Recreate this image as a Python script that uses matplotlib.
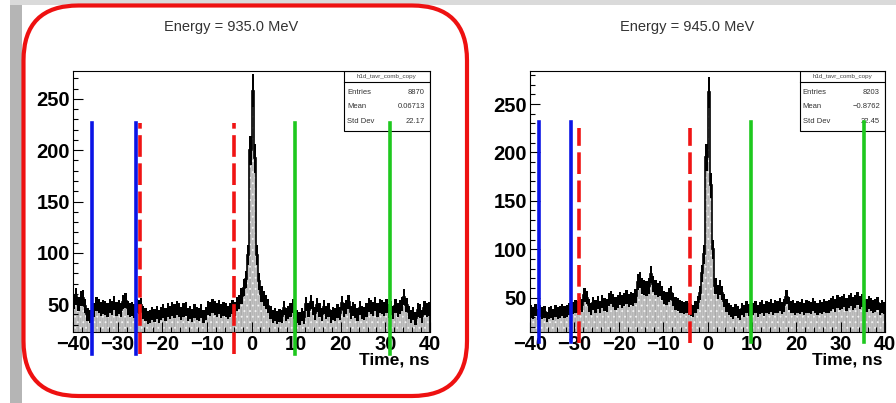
import matplotlib
matplotlib.use('Agg')
import matplotlib.pyplot as plt
from matplotlib.patches import Rectangle, FancyBboxPatch
from matplotlib.ticker import MultipleLocator
import numpy as np

plt.rcParams['font.family'] = ['Liberation Sans', 'DejaVu Sans']
plt.rcParams['hatch.linewidth'] = 0.6

# Bins: 0.5 ns from -40 to 40
edges = np.arange(-40, 40.5, 0.5)

# Energy = 935.0 MeV, counts per bin (10 ns per row)
counts_935 = [
    52, 58, 50, 55, 56, 48, 40, 38, 42, 44, 50, 48, 45, 47, 46, 44, 48, 46, 51, 45,
    47, 44, 52, 53, 46, 44, 45, 43, 48, 47, 49, 42, 40, 37, 38, 41, 39, 42, 38, 41,
    43, 40, 44, 42, 45, 43, 46, 44, 41, 44, 45, 40, 42, 39, 43, 41, 40, 43, 38, 41,
    46, 45, 48, 46, 44, 47, 43, 45, 44, 42, 44, 47, 45, 50, 52, 58, 66, 74, 98, 200,
    258, 192, 98, 72, 60, 55, 52, 48, 42, 38, 40, 37, 39, 38, 46, 40, 42, 44, 48, 36,
    38, 36, 40, 37, 50, 44, 52, 46, 41, 49, 44, 40, 47, 42, 44, 38, 41, 40, 43, 41,
    51, 44, 47, 52, 42, 45, 43, 40, 46, 42, 41, 44, 49, 47, 45, 50, 44, 48, 47, 45,
    48, 43, 46, 42, 48, 44, 47, 50, 57, 49, 42, 38, 41, 36, 44, 43, 38, 46, 44, 45,
]

# Energy = 945.0 MeV
counts_945 = [
    36, 34, 37, 33, 36, 34, 35, 30, 34, 35, 33, 36, 34, 35, 37, 35, 36, 38, 37, 39,
    41, 40, 44, 42, 53, 50, 42, 38, 44, 41, 45, 40, 46, 43, 42, 48, 50, 47, 44, 46,
    49, 46, 48, 51, 47, 49, 48, 52, 66, 68, 62, 60, 59, 62, 74, 64, 60, 58, 59, 55,
    50, 49, 53, 55, 48, 44, 43, 41, 40, 39, 40, 38, 37, 36, 40, 45, 55, 75, 95, 195,
    262, 166, 100, 62, 56, 60, 55, 47, 42, 38, 36, 34, 37, 35, 33, 38, 36, 40, 37, 35,
    38, 40, 36, 39, 41, 37, 40, 39, 42, 38, 41, 40, 43, 39, 42, 51, 44, 40, 41, 38,
    40, 39, 42, 38, 41, 40, 39, 43, 40, 38, 41, 39, 42, 40, 41, 43, 45, 42, 46, 44,
    45, 47, 43, 46, 48, 44, 46, 49, 45, 47, 44, 42, 45, 43, 41, 42, 44, 38, 41, 39,
]

titles = ['Energy = 935.0 MeV', 'Energy = 945.0 MeV']
stats_names = ['h1d_tavr_comb_copy', 'h1d_tavr_comb_copy']
entries = ['8870', '8203']
means = ['0.06713', '\u22120.8762']
std_devs = ['22.17', '22.45']
y_ranges = [(22.7, 277.6), (14.5, 284.4)]

# Window lines (ns)
blue_935 = [-35.8, -25.8]
red_935 = [-25.0, -3.9]
green_935 = [9.8, 31.0]
blue_945 = [-38.0, -30.8]
red_945 = [-28.9, -4.0]
green_945 = [9.8, 35.1]

fig = plt.figure(figsize=(8.96, 4.03), dpi=100)
fig.patch.set_facecolor('white')

# slide background bits
fig.add_artist(Rectangle((10 / 896, 0), 12 / 896, 1, transform=fig.transFigure,
                         color='#b5b5b5', lw=0, zorder=0))
fig.add_artist(Rectangle((10 / 896, 1 - 5 / 403), 886 / 896, 5 / 403,
                         transform=fig.transFigure, color='#dadada', lw=0, zorder=0))


def draw_panel(ax, counts, ylim, blue, red, green, line_y, red_y,
               name, n_entries, mean, std):
    counts = np.array(counts, dtype=float)
    err = np.sqrt(counts)

    # dotted gray fill
    ax.bar(edges[:-1], counts, width=0.5, align='edge', color='#ababab',
           edgecolor='#f4f4f4', linewidth=0.25, hatch='...', zorder=1)
    # black band (errors) + outline
    lo = np.append(counts - err, counts[-1] - err[-1])
    hi = np.append(counts + err, counts[-1] + err[-1])
    ax.fill_between(edges, lo, hi, step='post', color='black', lw=0, zorder=2)
    ax.stairs(counts, edges, color='black', lw=1.2, zorder=2)

    ax.set_xlim(-40, 40)
    ax.set_ylim(*ylim)

    for xv in blue:
        ax.plot([xv, xv], line_y, color='#0a14e6', lw=2.6, clip_on=False, zorder=7)
    for xv in red:
        ax.plot([xv, xv], red_y, color='#f01414', lw=2.6, clip_on=False, zorder=7,
                linestyle=(0, (6, 1.8)))
    for xv in green:
        ax.plot([xv, xv], line_y, color='#1ec81e', lw=2.6, clip_on=False, zorder=7)

    ax.xaxis.set_major_locator(MultipleLocator(10))
    ax.xaxis.set_minor_locator(MultipleLocator(2))
    ax.yaxis.set_major_locator(MultipleLocator(50))
    ax.yaxis.set_minor_locator(MultipleLocator(10))
    ax.tick_params(which='both', direction='in', top=False, right=False, width=0.8)
    ax.tick_params(which='major', length=7, labelsize=14.5, pad=2)
    ax.tick_params(which='minor', length=3.5)
    for lab in ax.get_xticklabels() + ax.get_yticklabels():
        lab.set_fontweight('bold')
    for s in ax.spines.values():
        s.set_linewidth(0.8)
        s.set_zorder(6)

    # stats box
    ax.add_patch(Rectangle((0.759, 0.769), 0.241, 0.231, transform=ax.transAxes,
                           facecolor='white', edgecolor='black', lw=0.8, zorder=6))
    ax.plot([0.759, 1.0], [0.958, 0.958], transform=ax.transAxes, color='black',
            lw=0.8, zorder=6)
    ax.text(0.879, 0.979, name, transform=ax.transAxes, ha='center', va='center',
            fontsize=4.5, color='#444444', zorder=6)
    rows = [('Entries', n_entries, 0.916), ('Mean', mean, 0.862), ('Std Dev', std, 0.804)]
    for lab, val, yy in rows:
        ax.text(0.768, yy, lab, transform=ax.transAxes, ha='left', va='center',
                fontsize=5.5, color='#333333', zorder=6)
        ax.text(0.985, yy, val, transform=ax.transAxes, ha='right', va='center',
                fontsize=5.5, color='#333333', zorder=6)


ax1 = fig.add_axes([73 / 896, 71 / 403, 357 / 896, 261.3 / 403])
draw_panel(ax1, counts_935, y_ranges[0], blue_935, red_935, green_935,
           (1, 227), (1, 227), stats_names[0], entries[0], means[0], std_devs[0])

ax2 = fig.add_axes([530 / 896, 71 / 403, 355.3 / 896, 261.3 / 403])
draw_panel(ax2, counts_945, y_ranges[1], blue_945, red_945, green_945,
           (4.6, 231.7), (3, 225.5), stats_names[1], entries[1], means[1], std_devs[1])

# titles and axis labels
fig.text(231 / 896, 1 - 27 / 403, titles[0], ha='center', va='center',
         fontsize=10.5, color='#333333')
fig.text(687 / 896, 1 - 27 / 403, titles[1], ha='center', va='center',
         fontsize=10.5, color='#333333')
fig.text(429 / 896, 1 - 360 / 403, 'Time, ns', ha='right', va='center',
         fontsize=12.5, fontweight='bold')
fig.text(882 / 896, 1 - 360 / 403, 'Time, ns', ha='right', va='center',
         fontsize=12.5, fontweight='bold')

# red rounded frame around the left plot
frame = FancyBboxPatch((0.235, 0.07), 4.435, 3.905,
                       boxstyle='round,pad=0,rounding_size=0.55',
                       transform=fig.dpi_scale_trans, fill=False,
                       edgecolor='#ee1111', lw=3.0, zorder=10)
fig.add_artist(frame)

fig.savefig('out.png', dpi=100)
